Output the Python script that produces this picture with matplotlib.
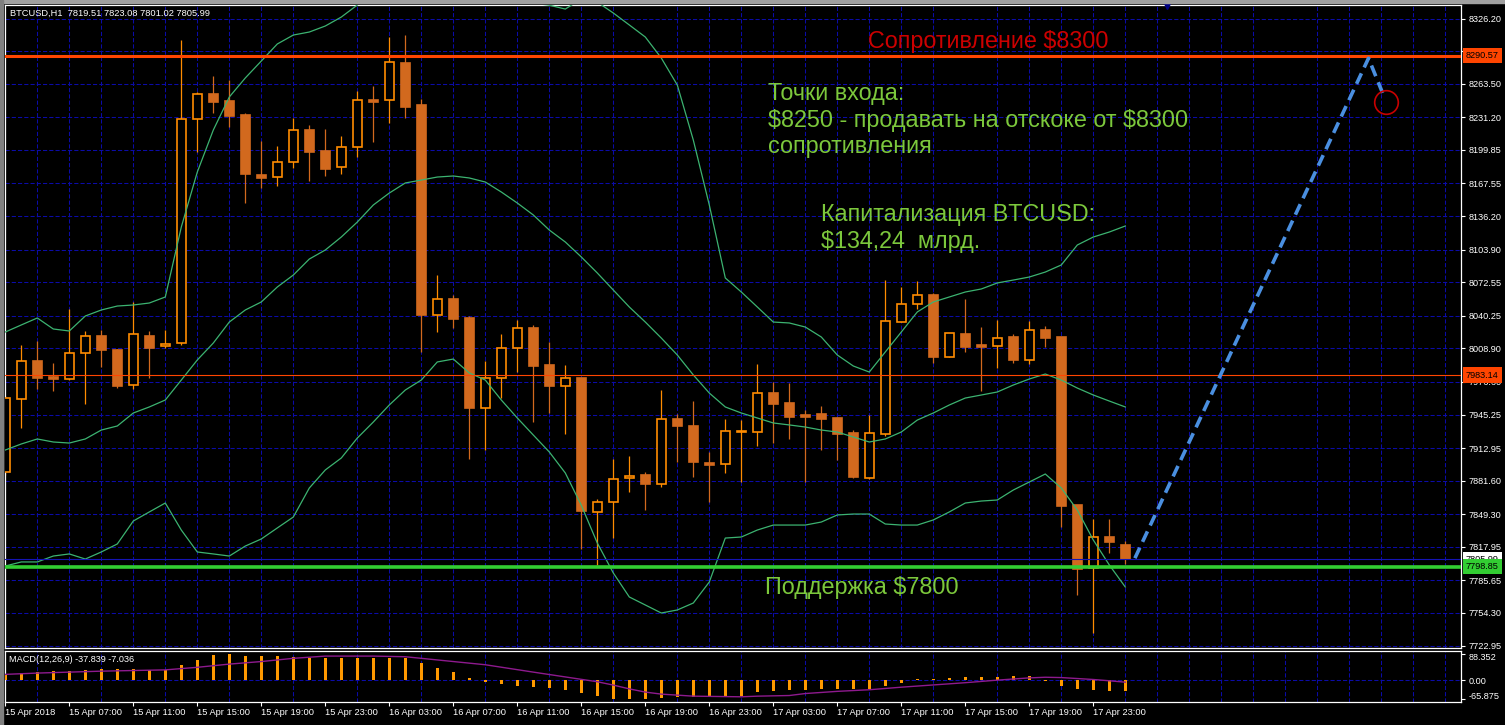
import matplotlib
matplotlib.use("Agg")
import matplotlib.pyplot as plt
from matplotlib.transforms import blended_transform_factory, ScaledTranslation

# ---- BTCUSD H1, one candle per hour: 15 Apr 2018 03:00 ... 18 Apr 2018 01:00 ----
opens = [7889.9, 7960.2, 7996.7, 7981.3, 7979.4, 8004.4, 8020.8, 8007.3, 7973.6, 8020.8,
         8011.1, 8014.0, 8229.5, 8253.6, 8246.8, 8233.4, 8175.6, 8173.7, 8188.2, 8218.9,
         8198.7, 8183.3, 8202.6, 8247.8, 8247.8, 8283.4, 8243.0, 8041.0, 8056.4, 8038.1,
         7951.5, 7980.4, 8009.2, 8028.5, 7992.9, 7972.7, 7980.4, 7851.5, 7861.1, 7884.2,
         7887.1, 7878.4, 7940.9, 7934.2, 7898.6, 7897.6, 7928.4, 7928.4, 7965.9, 7956.3,
         7944.8, 7945.7, 7941.9, 7927.5, 7884.2, 7926.5, 8034.2, 8051.5, 8060.2, 8000.6,
         8022.7, 8012.1, 8011.1, 8019.8, 7997.7, 8026.5, 8019.8, 7858.2, 7797.6, 7827.4,
         7819.51]
highs = [7963.0, 8012.1, 8016.0, 7994.8, 8046.7, 8025.6, 8026.5, 8008.3, 8053.5, 8025.6,
         8026.5, 8305.5, 8255.5, 8270.9, 8267.0, 8235.3, 8208.4, 8203.5, 8230.5, 8223.8,
         8219.9, 8213.2, 8256.5, 8261.3, 8308.4, 8310.3, 8248.8, 8079.4, 8060.2, 8040.0,
         7996.7, 8022.7, 8036.2, 8031.3, 8015.0, 7992.9, 7980.4, 7864.0, 7902.4, 7905.3,
         7889.9, 7968.8, 7945.7, 7958.2, 7909.2, 7940.9, 7939.9, 7993.8, 7976.5, 7975.6,
         7949.6, 7953.4, 7942.8, 7930.3, 7944.8, 8074.6, 8067.9, 8073.7, 8062.1, 8023.7,
         8056.4, 8029.4, 8036.2, 8022.7, 8035.2, 8030.4, 8019.8, 7858.2, 7844.7, 7844.7,
         7823.08]
lows = [7887.0, 7932.3, 7969.8, 7967.9, 7978.4, 7955.4, 7990.9, 7970.7, 7969.8, 7980.4,
        8009.2, 8012.1, 8197.8, 8235.3, 8221.8, 8148.7, 8163.1, 8165.1, 8182.4, 8169.9,
        8174.7, 8176.6, 8193.0, 8207.4, 8225.7, 8230.5, 8005.4, 8024.6, 8028.5, 7902.4,
        7911.1, 7961.1, 7986.1, 7938.0, 7946.7, 7926.5, 7815.9, 7800.5, 7826.4, 7870.7,
        7853.4, 7875.5, 7899.6, 7885.1, 7861.1, 7888.9, 7880.3, 7914.9, 7917.8, 7921.7,
        7880.3, 7911.1, 7901.5, 7884.2, 7883.2, 7924.6, 8034.2, 8046.7, 7994.8, 8000.6,
        8005.4, 7967.9, 7990.0, 7994.8, 7993.8, 8010.2, 7837.0, 7771.6, 7735.1, 7812.0,
        7801.02]
closes = [7961.1, 7996.7, 7980.4, 7979.4, 8004.4, 8020.8, 8007.3, 7972.7, 8022.7, 8009.2,
          8013.1, 8229.5, 8253.6, 8245.9, 8232.4, 8176.6, 8172.8, 8188.2, 8218.9, 8197.8,
          8181.4, 8202.6, 8247.8, 8245.9, 8284.4, 8241.1, 8041.0, 8056.4, 8037.1, 7951.5,
          7980.4, 8009.2, 8028.5, 7991.9, 7972.7, 7980.4, 7852.4, 7861.1, 7883.2, 7886.1,
          7878.4, 7940.9, 7934.2, 7899.6, 7896.7, 7929.4, 7929.4, 7965.9, 7955.4, 7942.8,
          7942.8, 7940.9, 7926.5, 7885.1, 7927.5, 8035.2, 8051.5, 8060.2, 8000.6, 8023.7,
          8010.2, 8010.2, 8018.8, 7997.7, 8026.5, 8018.8, 7857.2, 7796.6, 7827.4, 7822.6,
          7805.99]

# Bollinger bands (upper band runs above the window for a while)
bb_upper = [8024.6, 8031.4, 8038.1, 8027.5, 8025.6, 8040.0, 8045.8, 8049.6, 8050.6, 8052.5,
            8058.3, 8125.6, 8178.5, 8218.9, 8250.7, 8269.0, 8285.3, 8301.7, 8310.3, 8313.2,
            8319.0, 8327.6, 8339.2, 8350.0, 8365.0, 8380.0, 8385.0, 8380.0, 8372.0, 8360.0,
            8352.0, 8347.0, 8344.0, 8341.0, 8339.0, 8335.3, 8345.0, 8342.0, 8331.5, 8320.0,
            8308.4, 8288.2, 8262.2, 8209.3, 8146.8, 8076.6, 8063.1, 8048.7, 8034.2, 8033.3,
            8029.4, 8019.8, 8002.5, 7991.9, 7986.1, 8005.4, 8024.6, 8043.9, 8053.5, 8058.3,
            8063.1, 8066.0, 8071.8, 8074.6, 8077.5, 8082.3, 8089.1, 8108.3, 8116.0, 8120.8,
            8126.6]
bb_middle = [7911.1, 7916.9, 7921.7, 7918.8, 7917.8, 7921.7, 7930.3, 7934.2, 7946.7, 7952.5,
             7959.2, 7978.4, 7997.7, 8014.0, 8034.2, 8045.8, 8053.5, 8067.9, 8079.4, 8094.8,
             8103.5, 8116.0, 8130.4, 8146.8, 8158.3, 8168.0, 8170.8, 8173.7, 8174.7, 8172.8,
             8168.9, 8159.3, 8148.7, 8137.2, 8122.7, 8111.2, 8096.8, 8081.4, 8065.0, 8048.7,
             8034.2, 8018.8, 8002.5, 7983.3, 7965.9, 7952.5, 7946.7, 7941.9, 7937.1, 7935.2,
             7933.2, 7930.3, 7928.4, 7923.6, 7918.8, 7921.7, 7928.4, 7939.9, 7946.7, 7954.4,
             7961.1, 7964.0, 7966.9, 7973.6, 7979.4, 7984.2, 7978.4, 7970.7, 7964.0, 7958.2,
             7952.5]
bb_lower = [7799.5, 7803.4, 7803.4, 7809.1, 7811.1, 7806.2, 7813.0, 7820.7, 7842.8, 7851.5,
            7860.1, 7834.1, 7813.0, 7811.1, 7809.1, 7818.7, 7825.5, 7836.1, 7846.6, 7874.5,
            7891.9, 7903.4, 7922.6, 7938.0, 7954.4, 7968.8, 7978.4, 7995.8, 7998.6, 7985.2,
            7978.4, 7959.2, 7941.9, 7925.5, 7909.2, 7889.0, 7858.0, 7821.6, 7792.8, 7769.7,
            7762.0, 7754.3, 7757.2, 7763.9, 7784.1, 7826.4, 7827.4, 7834.1, 7838.9, 7838.9,
            7838.9, 7841.8, 7848.6, 7849.5, 7849.5, 7839.9, 7838.9, 7838.9, 7843.8, 7851.5,
            7860.1, 7862.0, 7863.0, 7872.6, 7880.3, 7888.0, 7874.5, 7853.4, 7824.5, 7800.5,
            7779.3]

# MACD(12,26,9): main line as histogram, signal as line
macd_main = [22.0, 25.3, 27.5, 29.7, 33.0, 36.3, 37.4, 37.4, 37.4, 36.3,
             36.3, 52.8, 69.3, 86.0, 88.352, 82.5, 82.5, 82.5, 80.3, 77.0,
             77.0, 77.0, 77.0, 77.0, 77.0, 77.0, 57.2, 40.7, 26.4, 6.6,
             -7.7, -13.2, -18.7, -22.0, -27.5, -33.0, -44.0, -55.0, -63.8, -65.875,
             -65.5, -60.5, -57.2, -57.2, -57.2, -52.8, -52.8, -41.8, -38.5, -35.2,
             -33.0, -29.7, -29.7, -31.9, -29.7, -19.8, -11.0, 2.2, 3.3, 6.6,
             11.0, 9.9, 9.9, 13.2, 14.3, -2.0, -18.7, -29.7, -35.2, -36.3,
             -37.839]
signal_idx = [0, 2, 4, 6, 8, 10, 12, 14, 16, 18, 20, 23, 25, 28, 30, 33, 35, 37, 38, 39,
              40, 41, 43, 46, 47, 49, 50, 52, 54, 56, 58, 60, 62, 64, 65, 66, 67, 68, 69, 70]
signal_val = [19.8, 24.2, 27.5, 30.8, 33.0, 35.2, 44.0, 55.0, 63.8, 74.8, 82.5, 82.5, 80.3,
              63.8, 52.8, 27.5, 11.0, -5.5, -17.0, -30.0, -41.0, -48.0, -55.0, -57.2, -55.0,
              -52.8, -46.0, -38.5, -33.0, -24.2, -16.5, -8.8, 0.0, 7.7, 9.9, 8.8, 5.5, 2.2,
              -2.2, -7.036]

price_ticks = [8326.20, 8294.85, 8263.50, 8231.20, 8199.85, 8167.55, 8136.20, 8103.90,
               8072.55, 8040.25, 8008.90, 7976.60, 7945.25, 7912.95, 7881.60, 7849.30,
               7817.95, 7785.65, 7754.30, 7722.95]
time_idx = list(range(0, 69, 4))
time_labels = ["15 Apr 2018", "15 Apr 07:00", "15 Apr 11:00", "15 Apr 15:00", "15 Apr 19:00",
               "15 Apr 23:00", "16 Apr 03:00", "16 Apr 07:00", "16 Apr 11:00", "16 Apr 15:00",
               "16 Apr 19:00", "16 Apr 23:00", "17 Apr 03:00", "17 Apr 07:00", "17 Apr 11:00",
               "17 Apr 15:00", "17 Apr 19:00", "17 Apr 23:00"]

resistance = 8290.57
support = 7798.85
level_line = 7983.14
bid = 7805.99

# projected move drawn on the chart (hour index, price)
forecast_idx = [70.6, 85.2, 86.2]
forecast_price = [7807.0, 8288.0, 8250.0]
target_idx, target_price = 86.3, 8246.0

# ---------------------------------------------------------------------
W, H = 1505, 725
fig = plt.figure(figsize=(W / 100, H / 100), dpi=100, facecolor="black")


def fig_box(left, top, right, bottom):
    return [left / W, 1 - bottom / H, (right - left) / W, (bottom - top) / H]


ax = fig.add_axes(fig_box(4.5, 5, 1460.5, 647.5))
axm = fig.add_axes(fig_box(4.5, 650.7, 1460.5, 701.7))

GRID = "#0b0ba8"
BULL = "#ff8c00"
BEAR = "#d2691e"
TXT_GREEN = "#7cc83c"
FONT = "Liberation Sans"
n = len(opens)
idx = list(range(n))

for a in (ax, axm):
    a.set_facecolor("black")
    for s in a.spines.values():
        s.set_color("white")
        s.set_linewidth(0.9)
    a.set_xlim(-0.05, 90.95)
    a.set_xticks(range(2, 91, 2), minor=True)
    a.grid(which="minor", axis="x", color=GRID, lw=0.75, ls=(0, (4, 2)))
    a.set_axisbelow(True)

# candles
bottoms = [min(o, c) for o, c in zip(opens, closes)]
heights = [max(abs(c - o), 0.3) for o, c in zip(opens, closes)]
bull = [c >= o for o, c in zip(opens, closes)]
edge = [BULL if b else BEAR for b in bull]
fill = ["black" if b else BEAR for b in bull]
ax.vlines(idx, lows, highs, colors=edge, lw=0.9, zorder=2)
ax.bar(idx, heights, bottom=bottoms, width=0.6, color=fill, edgecolor=edge,
       linewidth=1.2, zorder=3)

for band in (bb_upper, bb_middle, bb_lower):
    ax.plot(idx, band, color="#3cb371", lw=0.9, zorder=4)

# horizontal levels
ax.axhline(level_line, color="#ff4500", lw=0.8, zorder=4)
ax.axhline(bid, color="#1414b4", lw=0.8, zorder=4)
ax.axhline(resistance, color="#ff4500", lw=2.2, zorder=5)
ax.axhline(support, color="#32cd32", lw=2.6, zorder=5)

# forecast path and target circle
ax.plot(forecast_idx, forecast_price, color="#4a8fe0", lw=2.6, dashes=(3.2, 1.8),
        solid_capstyle="butt", zorder=6)
ax.plot([target_idx], [target_price], marker="o", ms=17, mfc="none", mec="#c80000",
        mew=1.2, zorder=6)
ax.plot([72.6], [1.0], marker="v", ms=6, color="#000080", clip_on=False,
        transform=blended_transform_factory(ax.transData, ax.transAxes), zorder=7)

ax.set_ylim(7721.1, 8339.2)
ax.yaxis.tick_right()
ax.set_yticks(price_ticks)
ax.set_yticklabels(["%.2f" % v for v in price_ticks])
ax.tick_params(axis="y", direction="out", length=3, width=0.8, colors="white",
               labelsize=6.6, pad=3, labelfontfamily=FONT)
ax.tick_params(axis="x", which="both", length=0, labelbottom=False)
ax.grid(which="major", axis="y", color=GRID, lw=0.75, ls=(0, (4, 2)))

# right-edge price boxes
rt = blended_transform_factory(ax.transAxes, ax.transData)
x_box = 1 + 5.5 / 1456
for val, bg in ((resistance, "#ff4500"), (level_line, "#ff4500"), (bid, "white"),
                (support, "#32cd32")):
    ax.text(x_box, val, "%.2f" % val, transform=rt, ha="left", va="center",
            fontsize=6.6, family=FONT, color="black", clip_on=False, zorder=10,
            bbox=dict(boxstyle="square,pad=0.35", fc=bg, ec="none"))

# chart annotations
def px(x, y):
    return x / W, 1 - y / H

big = dict(fontsize=16.8, family=FONT, va="baseline", ha="left", parse_math=False)
fig.text(*px(868, 48), "Сопротивление $8300", color="#cc0000", **big)
fig.text(*px(768, 100), "Точки входа:", color=TXT_GREEN, **big)
fig.text(*px(768, 127), "$8250 - продавать на отскоке от $8300", color=TXT_GREEN, **big)
fig.text(*px(768, 153), "сопротивления", color=TXT_GREEN, **big)
fig.text(*px(821, 221), "Капитализация BTCUSD:", color=TXT_GREEN, **big)
fig.text(*px(821, 248), "$134,24  млрд.", color=TXT_GREEN, **big)
fig.text(*px(765, 594), "Поддержка $7800", color=TXT_GREEN, **big)

fig.text(*px(9.5, 13), "BTCUSD,H1  %.2f %.2f %.2f %.2f" % (opens[-1], highs[-1], lows[-1], closes[-1]),
         color="white", fontsize=6.7, family=FONT, va="center", ha="left")

# MACD panel
axm.bar(idx, macd_main, width=0.17, color="#ff9900", zorder=3)
axm.plot(signal_idx, signal_val, color="#8e1a8e", lw=1.0, zorder=4)
axm.axhline(0, color=GRID, lw=0.75, ls=(0, (4, 2)), zorder=1)
axm.set_ylim(-74, 101)
axm.yaxis.tick_right()
axm.set_yticks([88.352, 0.0, -65.875])
axm.set_yticklabels(["88.352", "0.00", "-65.875"])
axm.tick_params(axis="y", direction="out", length=3, width=0.8, colors="white",
                labelsize=6.6, pad=3, labelfontfamily=FONT)
shifts = [-2.6, -0.8, 4.3]
for lab, dy in zip(axm.get_yticklabels(), shifts):
    lab.set_transform(lab.get_transform() + ScaledTranslation(0, dy / 100, fig.dpi_scale_trans))
axm.set_xticks(time_idx)
axm.set_xticklabels(time_labels, ha="left")
axm.tick_params(axis="x", which="major", direction="out", length=3, width=0.8,
                colors="white", labelsize=6.7, pad=1.5, labelfontfamily=FONT)
axm.tick_params(axis="x", which="minor", length=0)
axm.text(0.003, 0.82, "MACD(12,26,9) %.3f %.3f" % (macd_main[-1], signal_val[-1]),
         transform=axm.transAxes, color="white", fontsize=6.6, family=FONT,
         va="center", ha="left")

# window frame
fig.patches.append(plt.Rectangle((0, 1 - 2.5 / H), 1, 2.5 / H, transform=fig.transFigure,
                                 color="#a0a0a0", zorder=0))
fig.patches.append(plt.Rectangle((0, 0), 3 / W, 1, transform=fig.transFigure,
                                 color="#808080", zorder=0))

fig.savefig("out.png", dpi=100, facecolor="black")
